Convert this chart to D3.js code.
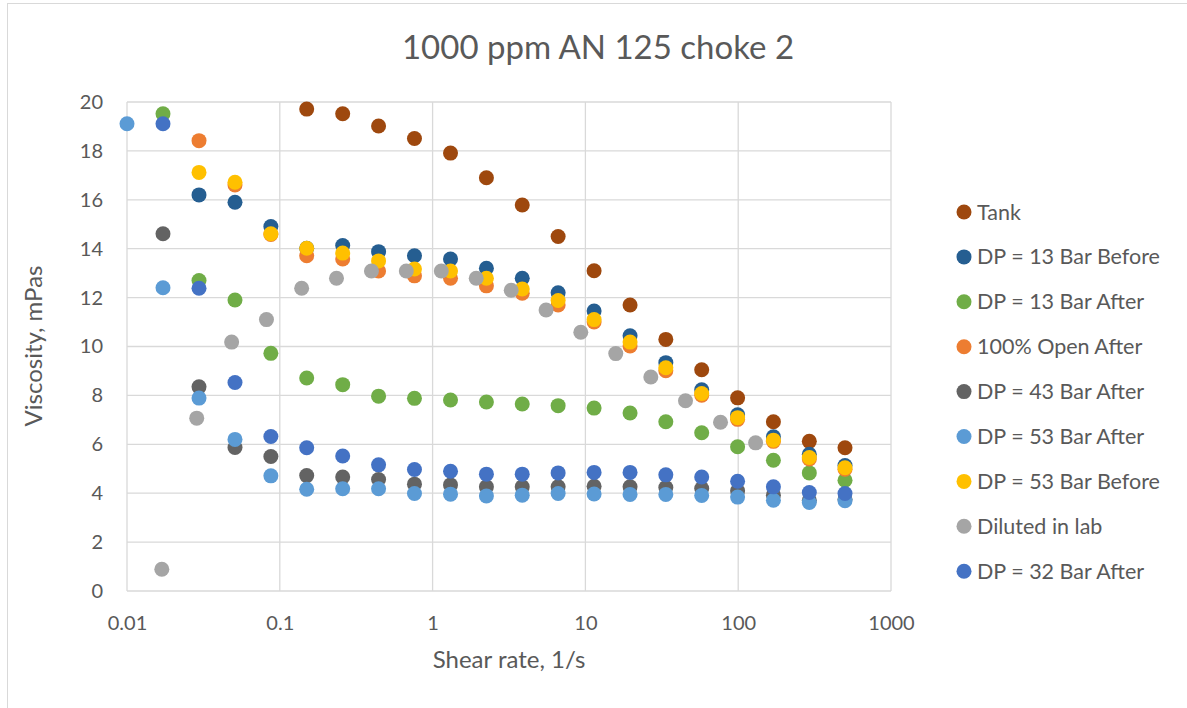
<!DOCTYPE html>
<html>
<head>
<meta charset="utf-8">
<script src="https://cdn.jsdelivr.net/npm/d3@7"></script>
<style>
  body { margin: 0; background: #fff; }
  text { font-family: Lato, "Open Sans", sans-serif; fill: #595959; }
</style>
</head>
<body>
<svg id="chart"></svg>
<script>
// shear rates used by the rheometer (1/s)
const shearRates = [0.01, 0.0172, 0.0296, 0.0509, 0.0874, 0.150, 0.258, 0.443, 0.761, 1.31, 2.25,
                    3.86, 6.63, 11.4, 19.6, 33.6, 57.7, 99.1, 170, 292, 500];
// lab dilution was measured at slightly different shear rates
const labShearRates = [0.0169, 0.0286, 0.0484, 0.0818, 0.139, 0.235, 0.398, 0.673, 1.14, 1.93,
                       3.27, 5.53, 9.33, 15.8, 26.8, 45.2, 76.6, 130];

// viscosity values (mPas), null = no point
const tank        = [null, null, null, null, null, 19.71, 19.52, 19.02, 18.51, 17.91, 16.90, 15.79, 14.50, 13.10, 11.70, 10.29, 9.05, 7.90, 6.92, 6.12, 5.86];
const dp13Before  = [null, null, 16.20, 15.90, 14.91, 14.02, 14.13, 13.88, 13.71, 13.58, 13.20, 12.79, 12.20, 11.45, 10.44, 9.34, 8.23, 7.21, 6.31, 5.59, 5.13];
const dp13After   = [null, 19.52, 12.70, 11.90, 9.72, 8.71, 8.44, 7.97, 7.88, 7.81, 7.73, 7.65, 7.58, 7.48, 7.28, 6.92, 6.47, 5.90, 5.35, 4.83, 4.53];
const open100     = [null, null, 18.42, 16.61, 14.58, 13.71, 13.58, 13.09, 12.89, 12.79, 12.48, 12.18, 11.70, 11.00, 10.02, 9.01, 8.01, 7.02, 6.12, 5.40, 4.98];
const dp43After   = [null, 14.61, 8.35, 5.87, 5.50, 4.72, 4.66, 4.56, 4.37, 4.34, 4.26, 4.26, 4.26, 4.28, 4.26, 4.23, 4.19, 4.10, 3.92, 3.71, 3.75];
const dp53After   = [19.11, 12.40, 7.89, 6.20, 4.71, 4.16, 4.18, 4.18, 3.99, 3.96, 3.89, 3.92, 3.99, 3.97, 3.95, 3.95, 3.91, 3.84, 3.71, 3.62, 3.69];
const dp53Before  = [null, null, 17.12, 16.72, 14.61, 14.02, 13.82, 13.50, 13.17, 13.09, 12.79, 12.35, 11.88, 11.10, 10.18, 9.13, 8.08, 7.09, 6.17, 5.46, 5.04];
const dilutedLab  = [0.89, 7.07, 10.18, 11.10, 12.38, 12.79, 13.09, 13.09, 13.09, 12.79, 12.30, 11.49, 10.58, 9.71, 8.75, 7.78, 6.90, 6.06];
const dp32After   = [null, 19.11, 12.38, 8.53, 6.32, 5.86, 5.52, 5.16, 4.97, 4.90, 4.78, 4.78, 4.83, 4.85, 4.85, 4.75, 4.66, 4.49, 4.26, 4.03, 3.99];

const seriesNames  = ["Tank", "DP = 13 Bar Before", "DP = 13 Bar After", "100% Open After", "DP = 43 Bar After",
                      "DP = 53 Bar After", "DP = 53 Bar Before", "Diluted in lab", "DP = 32 Bar After"];
const seriesColors = ["#9E480E", "#255E91", "#70AD47", "#ED7D31", "#636363", "#5B9BD5", "#FFC000", "#A5A5A5", "#4472C4"];
const seriesValues = [tank, dp13Before, dp13After, open100, dp43After, dp53After, dp53Before, dilutedLab, dp32After];
const seriesX      = [shearRates, shearRates, shearRates, shearRates, shearRates, shearRates, shearRates, labShearRates, shearRates];

const xTicks = [0.01, 0.1, 1, 10, 100, 1000];
const yTicks = [0, 2, 4, 6, 8, 10, 12, 14, 16, 18, 20];

const W = 1187, H = 708;
const margin = {left: 127, right: 296, top: 102, bottom: 117};
const width = W - margin.left - margin.right;
const height = H - margin.top - margin.bottom;

const svg = d3.select("#chart").attr("width", W).attr("height", H);

// chart frame
svg.append("rect")
    .attr("x", 7.5).attr("y", 3.5)
    .attr("width", W + 10).attr("height", H + 10)
    .attr("fill", "#fff").attr("stroke", "#d9d9d9");

const g = svg.append("g").attr("transform", "translate(" + margin.left + "," + margin.top + ")");

const xScale = d3.scaleLog().domain([0.01, 1000]).range([0, width]);
const yScale = d3.scaleLinear().domain([0, 20]).range([height, 0]);

// grid lines
g.selectAll("yGrid")
    .data(yTicks)
    .join("line")
    .attr("x1", 0).attr("x2", width)
    .attr("y1", d => yScale(d)).attr("y2", d => yScale(d))
    .attr("stroke", "#d9d9d9").attr("stroke-width", 1.3);

g.selectAll("xGrid")
    .data(xTicks)
    .join("line")
    .attr("x1", d => xScale(d)).attr("x2", d => xScale(d))
    .attr("y1", 0).attr("y2", height)
    .attr("stroke", "#d9d9d9").attr("stroke-width", 1.3);

// axes (labels only, Excel style)
const xAxis = g.append("g")
    .attr("transform", "translate(0," + height + ")")
    .call(d3.axisBottom(xScale).tickValues(xTicks).tickFormat(d3.format("~g")).tickSize(0).tickPadding(25));
const yAxis = g.append("g")
    .call(d3.axisLeft(yScale).tickValues(yTicks).tickSize(0).tickPadding(24));
[xAxis, yAxis].forEach(a => {
    a.select(".domain").remove();
    a.selectAll("text").style("font-size", "20px").style("font-family", "Lato, sans-serif").attr("fill", "#595959");
});

// points
seriesValues.forEach((vals, i) => {
    const pts = vals.map((v, j) => ({x: seriesX[i][j], y: v})).filter(d => d.y !== null);
    g.append("g").selectAll("circle")
        .data(pts)
        .join("circle")
        .attr("cx", d => xScale(d.x))
        .attr("cy", d => yScale(d.y))
        .attr("r", 7.5)
        .attr("fill", seriesColors[i]);
});

// titles
svg.append("text")
    .attr("x", 598).attr("y", 59)
    .attr("text-anchor", "middle")
    .style("font-size", "33px")
    .text("1000 ppm AN 125 choke 2");

svg.append("text")
    .attr("x", 509).attr("y", 668)
    .attr("text-anchor", "middle")
    .style("font-size", "24px")
    .text("Shear rate, 1/s");

svg.append("text")
    .attr("transform", "translate(42,346) rotate(-90)")
    .attr("text-anchor", "middle")
    .style("font-size", "24px")
    .text("Viscosity, mPas");

// legend
const legend = svg.append("g").attr("transform", "translate(964,212)");
seriesNames.forEach((name, i) => {
    const row = legend.append("g").attr("transform", "translate(0," + (i * 44.9) + ")");
    row.append("circle").attr("r", 7.5).attr("fill", seriesColors[i]);
    row.append("text").attr("x", 13).attr("dy", "0.35em")
        .style("font-size", "21.5px").text(name);
});
</script>
</body>
</html>
